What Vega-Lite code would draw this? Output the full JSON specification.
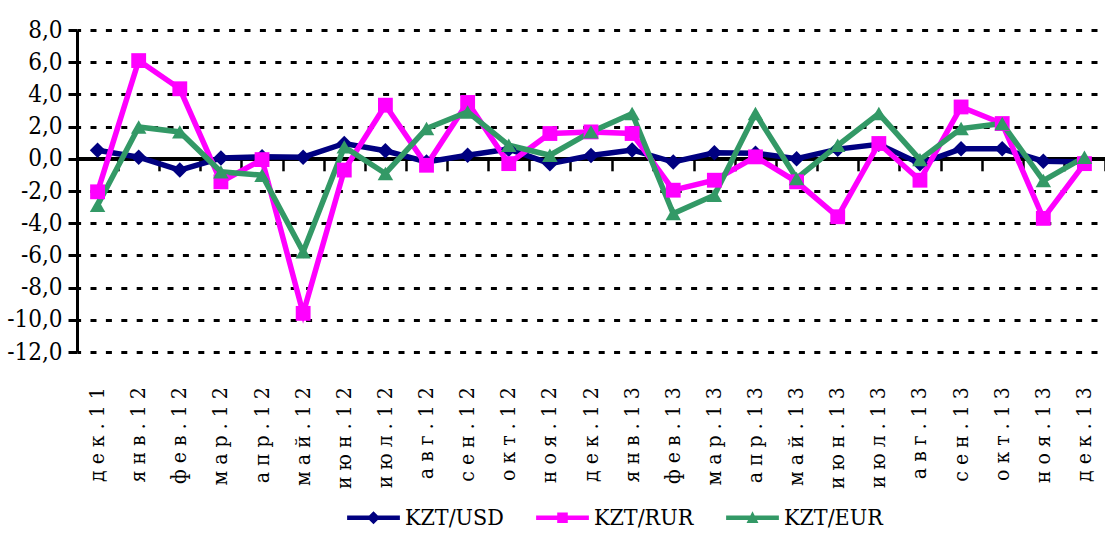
{
  "$schema": "https://vega.github.io/schema/vega-lite/v6.json",
  "width": 1028,
  "height": 322,
  "autosize": {"type": "none"},
  "padding": {"left": 77, "top": 30, "right": 0, "bottom": 185},
  "background": "white",
  "config": {"view": {"stroke": null}},
  "data": {"values": [
    {"m": "дек.11", "s": "KZT/USD", "v": 0.53},
    {"m": "янв.12", "s": "KZT/USD", "v": 0.1},
    {"m": "фев.12", "s": "KZT/USD", "v": -0.7},
    {"m": "мар.12", "s": "KZT/USD", "v": 0.05},
    {"m": "апр.12", "s": "KZT/USD", "v": 0.12},
    {"m": "май.12", "s": "KZT/USD", "v": 0.1},
    {"m": "июн.12", "s": "KZT/USD", "v": 0.95},
    {"m": "июл.12", "s": "KZT/USD", "v": 0.5},
    {"m": "авг.12", "s": "KZT/USD", "v": -0.2},
    {"m": "сен.12", "s": "KZT/USD", "v": 0.22},
    {"m": "окт.12", "s": "KZT/USD", "v": 0.6},
    {"m": "ноя.12", "s": "KZT/USD", "v": -0.3},
    {"m": "дек.12", "s": "KZT/USD", "v": 0.2},
    {"m": "янв.13", "s": "KZT/USD", "v": 0.55},
    {"m": "фев.13", "s": "KZT/USD", "v": -0.2},
    {"m": "мар.13", "s": "KZT/USD", "v": 0.37},
    {"m": "апр.13", "s": "KZT/USD", "v": 0.35},
    {"m": "май.13", "s": "KZT/USD", "v": 0.0},
    {"m": "июн.13", "s": "KZT/USD", "v": 0.6},
    {"m": "июл.13", "s": "KZT/USD", "v": 0.9},
    {"m": "авг.13", "s": "KZT/USD", "v": -0.3},
    {"m": "сен.13", "s": "KZT/USD", "v": 0.62},
    {"m": "окт.13", "s": "KZT/USD", "v": 0.62},
    {"m": "ноя.13", "s": "KZT/USD", "v": -0.15},
    {"m": "дек.13", "s": "KZT/USD", "v": -0.2},
    {"m": "дек.11", "s": "KZT/RUR", "v": -2.05},
    {"m": "янв.12", "s": "KZT/RUR", "v": 6.1},
    {"m": "фев.12", "s": "KZT/RUR", "v": 4.35},
    {"m": "мар.12", "s": "KZT/RUR", "v": -1.43},
    {"m": "апр.12", "s": "KZT/RUR", "v": -0.05},
    {"m": "май.12", "s": "KZT/RUR", "v": -9.6},
    {"m": "июн.12", "s": "KZT/RUR", "v": -0.7},
    {"m": "июл.12", "s": "KZT/RUR", "v": 3.33},
    {"m": "авг.12", "s": "KZT/RUR", "v": -0.4},
    {"m": "сен.12", "s": "KZT/RUR", "v": 3.5},
    {"m": "окт.12", "s": "KZT/RUR", "v": -0.3},
    {"m": "ноя.12", "s": "KZT/RUR", "v": 1.57},
    {"m": "дек.12", "s": "KZT/RUR", "v": 1.67},
    {"m": "янв.13", "s": "KZT/RUR", "v": 1.57},
    {"m": "фев.13", "s": "KZT/RUR", "v": -1.95},
    {"m": "мар.13", "s": "KZT/RUR", "v": -1.33},
    {"m": "апр.13", "s": "KZT/RUR", "v": 0.12},
    {"m": "май.13", "s": "KZT/RUR", "v": -1.43},
    {"m": "июн.13", "s": "KZT/RUR", "v": -3.6},
    {"m": "июл.13", "s": "KZT/RUR", "v": 0.95},
    {"m": "авг.13", "s": "KZT/RUR", "v": -1.33},
    {"m": "сен.13", "s": "KZT/RUR", "v": 3.22},
    {"m": "окт.13", "s": "KZT/RUR", "v": 2.19},
    {"m": "ноя.13", "s": "KZT/RUR", "v": -3.7},
    {"m": "дек.13", "s": "KZT/RUR", "v": -0.3},
    {"m": "дек.11", "s": "KZT/EUR", "v": -2.88},
    {"m": "янв.12", "s": "KZT/EUR", "v": 1.98},
    {"m": "фев.12", "s": "KZT/EUR", "v": 1.67},
    {"m": "мар.12", "s": "KZT/EUR", "v": -0.81},
    {"m": "апр.12", "s": "KZT/EUR", "v": -1.02},
    {"m": "май.12", "s": "KZT/EUR", "v": -5.78},
    {"m": "июн.12", "s": "KZT/EUR", "v": 0.74},
    {"m": "июл.12", "s": "KZT/EUR", "v": -0.91},
    {"m": "авг.12", "s": "KZT/EUR", "v": 1.88},
    {"m": "сен.12", "s": "KZT/EUR", "v": 2.91},
    {"m": "окт.12", "s": "KZT/EUR", "v": 0.84},
    {"m": "ноя.12", "s": "KZT/EUR", "v": 0.22},
    {"m": "дек.12", "s": "KZT/EUR", "v": 1.67},
    {"m": "янв.13", "s": "KZT/EUR", "v": 2.81},
    {"m": "фев.13", "s": "KZT/EUR", "v": -3.4},
    {"m": "мар.13", "s": "KZT/EUR", "v": -2.26},
    {"m": "апр.13", "s": "KZT/EUR", "v": 2.81},
    {"m": "май.13", "s": "KZT/EUR", "v": -1.22},
    {"m": "июн.13", "s": "KZT/EUR", "v": 0.84},
    {"m": "июл.13", "s": "KZT/EUR", "v": 2.81},
    {"m": "авг.13", "s": "KZT/EUR", "v": -0.05},
    {"m": "сен.13", "s": "KZT/EUR", "v": 1.88},
    {"m": "окт.13", "s": "KZT/EUR", "v": 2.19},
    {"m": "ноя.13", "s": "KZT/EUR", "v": -1.35},
    {"m": "дек.13", "s": "KZT/EUR", "v": 0.1}
  ]},
  "encoding": {
    "x": {
      "field": "m", "type": "nominal", "sort": null,
      "scale": {"type": "band", "paddingInner": 0, "paddingOuter": 0},
      "axis": {
        "title": null, "grid": false,
        "offset": -193.2,
        "domain": true, "domainColor": "black", "domainWidth": 3,
        "ticks": true, "tickBand": "extent", "tickColor": "black", "tickWidth": 2.5, "tickSize": 12,
        "labelAngle": -90, "labelAlign": "right", "labelBaseline": "middle",
        "labelPadding": 216,
        "labelFont": "DejaVu Serif Condensed", "labelFontSize": 21, "labelColor": "black",
        "labelExpr": "join(split(datum.label, ''), ' ')"
      }
    },
    "y": {
      "field": "v", "type": "quantitative",
      "scale": {"domain": [-12, 8], "nice": false, "zero": false},
      "axis": {
        "title": null,
        "values": [-12, -10, -8, -6, -4, -2, 0, 2, 4, 6, 8],
        "labelExpr": "(datum.value < 0 ? '-' : '') + replace(format(abs(datum.value), '.1f'), '.', ',')",
        "labelFont": "DejaVu Serif Condensed", "labelFontSize": 24, "labelColor": "black",
        "labelPadding": 6,
        "domainColor": "black", "domainWidth": 3,
        "tickColor": "black", "tickWidth": 3, "tickSize": 9,
        "grid": true, "gridColor": "black", "gridWidth": 3,
        "gridDash": [6, 9.4], "gridDashOffset": 2.4
      }
    },
    "color": {
      "field": "s", "type": "nominal",
      "scale": {"domain": ["KZT/USD", "KZT/RUR", "KZT/EUR"], "range": ["#000080", "#FF00FF", "#339966"]},
      "legend": {
        "title": null, "orient": "none", "legendX": 285, "legendY": 476,
        "direction": "horizontal",
        "labelFont": "DejaVu Serif Condensed", "labelFontSize": 23, "labelColor": "black",
        "labelOffset": 20, "columnPadding": 32,
        "symbolSize": 174, "symbolStrokeWidth": 0,
        "encode": {
          "symbols": {
            "update": {
              "shape": {"signal": "datum.value === 'KZT/USD' ? 'M-4,-0.35H-0.65L0,-1L0.65,-0.35H4V0.35H0.65L0,1L-0.65,0.35H-4Z' : datum.value === 'KZT/RUR' ? 'M-4,-0.35H-0.8V-0.8H0.8V-0.35H4V0.35H0.8V0.8H-0.8V0.35H-4Z' : 'M-4,-0.35H-0.325L0,-1L0.325,-0.35H4V0.35H0.675L0.9,0.8H-0.9L-0.675,0.35H-4Z'"},
              "fill": {"signal": "scale('color', datum.value)"},
              "fillOpacity": {"value": 1},
              "opacity": {"value": 1},
              "strokeWidth": {"value": 0}
            }
          }
        }
      }
    }
  },
  "layer": [
    {
      "mark": {"type": "rule", "color": "black", "strokeWidth": 3},
      "encoding": {
        "x": null,
        "y": {"datum": 0, "type": "quantitative"},
        "color": null
      }
    },
    {
      "mark": {"type": "line", "strokeWidth": 5.5},
      "encoding": {
        "x": {"field": "m", "type": "nominal", "sort": null, "bandPosition": 0.5}
      }
    },
    {
      "transform": [{"filter": "datum.s === 'KZT/USD'"}],
      "mark": {"type": "point", "filled": true, "opacity": 1, "size": 240, "shape": "diamond"},
      "encoding": {
        "x": {"field": "m", "type": "nominal", "sort": null, "bandPosition": 0.5}
      }
    },
    {
      "transform": [{"filter": "datum.s === 'KZT/RUR'"}],
      "mark": {"type": "point", "filled": true, "opacity": 1, "size": 220, "shape": "square"},
      "encoding": {
        "x": {"field": "m", "type": "nominal", "sort": null, "bandPosition": 0.5}
      }
    },
    {
      "transform": [{"filter": "datum.s === 'KZT/EUR'"}],
      "mark": {"type": "point", "filled": true, "opacity": 1, "size": 240, "shape": "triangle-up"},
      "encoding": {
        "x": {"field": "m", "type": "nominal", "sort": null, "bandPosition": 0.5}
      }
    }
  ]
}
